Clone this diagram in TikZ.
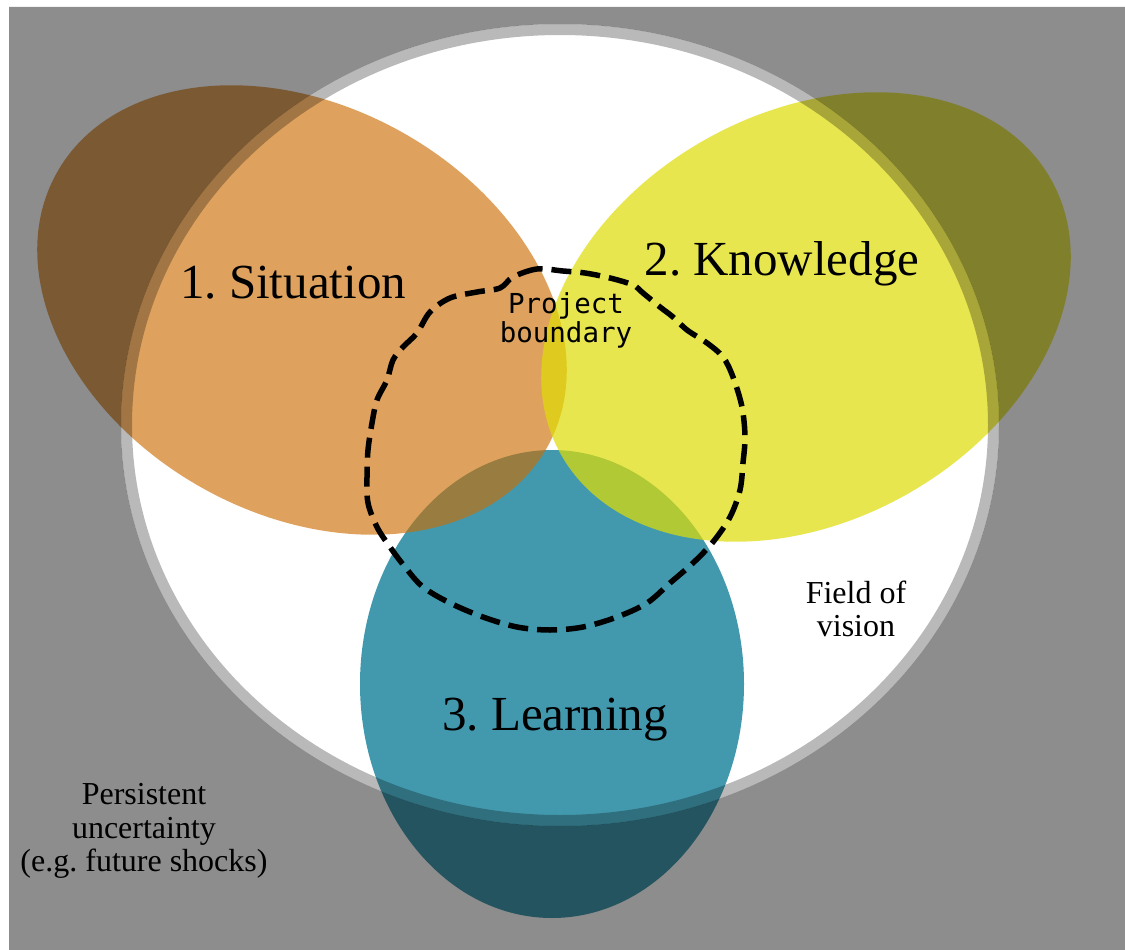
\documentclass[tikz,border=0pt]{standalone}
\usepackage{fontspec}
\setmainfont{Liberation Serif}
\newfontfamily\pbfont{DejaVu Sans Mono}
\definecolor{tealc}{RGB}{66,153,174}
\definecolor{orangec}{RGB}{204,109,1}
\definecolor{yellowc}{RGB}{224,221,6}
\frenchspacing
\begin{document}
\begin{tikzpicture}[x=1pt,y=-1pt,
  biglabel/.style={font=\fontsize{49}{49}\selectfont, anchor=base, inner sep=0pt},
  smalllabel/.style={font=\fontsize{32}{33.5}\selectfont, align=center, inner sep=0pt},
  monolabel/.style={font=\pbfont\fontsize{27.5}{29}\selectfont, align=center, inner sep=0pt},
  boundaryline/.style={line width=5.5pt, dash pattern=on 20pt off 9pt, black}]
\useasboundingbox (0,0) rectangle (1125,950);
\fill[white] (0,0) rectangle (1125,950);
% three circles of the diagram
\fill[tealc] (552,684) ellipse [x radius=192, y radius=234];
\fill[orangec, opacity=0.63, rotate around={-29.2:(302,310)}] (302,310) ellipse [x radius=281, y radius=204];
\fill[yellowc, opacity=0.71, rotate around={29.2:(806,317)}] (806,317) ellipse [x radius=281, y radius=204];
% grey surround with the field of vision left open
\fill[black, opacity=0.447, even odd rule] (9,7) rectangle (1125,950)
  (560,425) ellipse [x radius=439, y radius=401];
\fill[black, opacity=0.275, even odd rule] (560,425) ellipse [x radius=439, y radius=401]
  (560,425) ellipse [x radius=428, y radius=390];
% project boundary
\draw[boundaryline] plot[smooth cycle, tension=0.55] coordinates {
  (563,271) (537,269) (513,277) (500,288) (477,292) (450,298) (430,312)
  (417,333) (403,347) (393,360) (387,380) (377,400) (372,423) (368,450)
  (367,477) (368,503) (377,527) (390,547) (405,567) (423,587) (450,603)
  (483,617) (517,627) (550,630) (583,627) (617,617) (647,603) (670,583)
  (693,563) (713,542) (730,517) (740,490) (743,463) (745,437) (742,407)
  (733,377) (723,357) (707,343) (687,330) (673,317) (660,307) (643,293)
  (633,285) (610,278) (585,273)};
% labels
\node[biglabel] (sit) at (293,298) {1. Situation};
\node[biglabel] (kno) at (782,275) {2. Knowledge};
\node[biglabel] (lea) at (555,730) {3. Learning};
\node[monolabel] (pb) at (566,320) {Project\\boundary};
\node[smalllabel] (fov) at (856,609) {Field of\\vision};
\node[smalllabel] (pu) at (144,831) {Persistent\\uncertainty\\(e.g. future shocks)};
\end{tikzpicture}
\end{document}
